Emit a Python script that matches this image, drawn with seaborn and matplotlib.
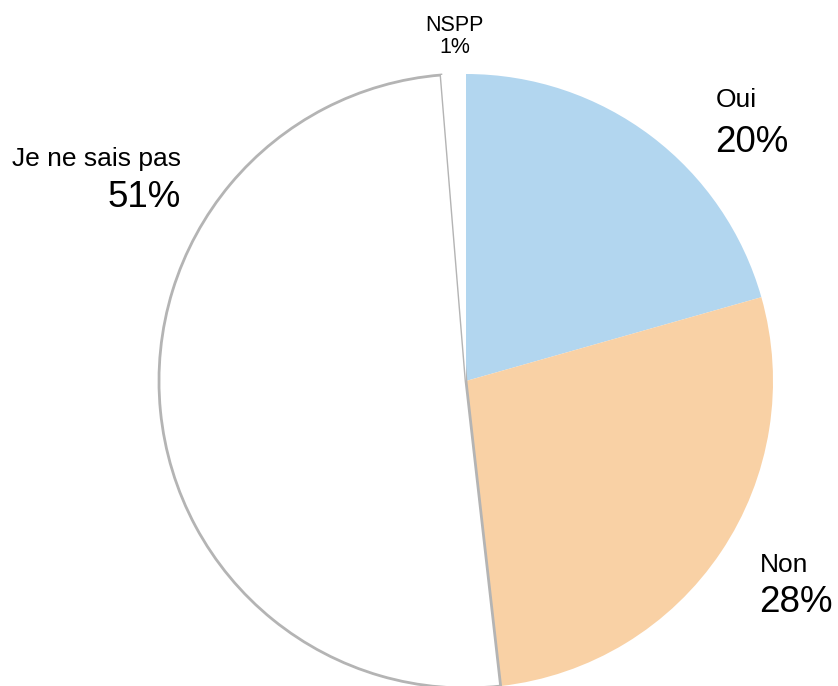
import matplotlib
matplotlib.use("Agg")
import matplotlib.pyplot as plt
import seaborn as sns

# données
categories = ["Oui", "Non", "Je ne sais pas", "NSPP"]
valeurs = [20.6, 27.6, 50.5, 1.3]
etiquettes = ["20%", "28%", "51%", "1%"]
couleurs = ["#b2d6ef", "#f9d1a5", "#ffffff", "#ffffff"]

sns.set_theme(style="white")
plt.rcParams['font.family'] = ['Liberation Sans', 'DejaVu Sans']
plt.rcParams['text.color'] = 'black'

W, H = 838, 686
fig = plt.figure(figsize=(W / 100, H / 100), dpi=100)
ax = fig.add_axes([0, 0, 1, 1])

wedges, _ = ax.pie(valeurs, colors=couleurs, startangle=90, counterclock=False,
                   center=(466, H - 381), radius=307,
                   explode=[0, 0, 0.011, 0],
                   wedgeprops=dict(linewidth=0, antialiased=True))
ax.set_xlim(0, W)
ax.set_ylim(0, H)
ax.set_aspect('equal')
ax.axis('off')

# contour gris du "Je ne sais pas"
wedges[2].set_edgecolor('#b4b4b4')
wedges[2].set_linewidth(2)

# étiquettes (catégorie + pourcentage)
ax.text(716, H - 107, categories[0], fontsize=19, ha='left', va='baseline')
ax.text(715, H - 152, etiquettes[0], fontsize=26.5, ha='left', va='baseline')
ax.text(760, H - 572, categories[1], fontsize=19, ha='left', va='baseline')
ax.text(759, H - 612, etiquettes[1], fontsize=26.5, ha='left', va='baseline')
ax.text(181, H - 166, categories[2], fontsize=19, ha='right', va='baseline')
ax.text(181, H - 207, etiquettes[2], fontsize=26.5, ha='right', va='baseline')
ax.text(454, H - 31, categories[3], fontsize=15.5, ha='center', va='baseline')
ax.text(455, H - 53, etiquettes[3], fontsize=15.5, ha='center', va='baseline')

fig.savefig("out.png", dpi=100)
